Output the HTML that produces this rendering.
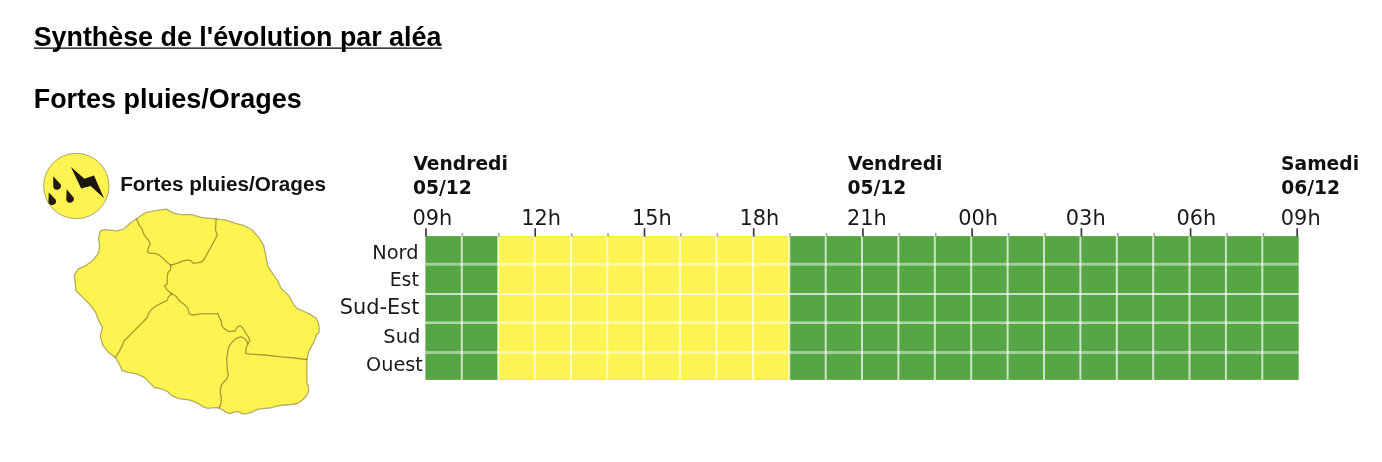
<!DOCTYPE html>
<html lang="fr"><head><meta charset="utf-8"><title>Synthèse de l'évolution par aléa</title>
<style>
html,body{margin:0;padding:0;background:#fff;}
body{width:1382px;height:462px;position:relative;overflow:hidden;font-family:"Liberation Sans",sans-serif;color:#000;}
svg{position:absolute;left:0;top:0;}
.dj{font-family:"DejaVu Sans",sans-serif;}
.hd{font-family:"Liberation Sans",sans-serif;font-weight:bold;fill:#000;}
</style></head><body>
<svg width="1382" height="462" viewBox="0 0 1382 462">
<g>
<text class="hd" x="33.7" y="46" font-size="26.85">Synthèse de l'évolution par aléa</text>
<line x1="33.8" y1="48.1" x2="441.9" y2="48.1" stroke="#000" stroke-width="1.3"/>
<text class="hd" x="33.7" y="108" font-size="26.95">Fortes pluies/Orages</text>
<rect x="425.4" y="236.1" width="873.3" height="143.8" fill="#56a645"/>
<rect x="498.2" y="236.1" width="291.1" height="143.8" fill="#fdf351"/>
<line x1="425.4" y1="264.3" x2="1298.7" y2="264.3" stroke="#fff" stroke-opacity="0.45" stroke-width="3.0"/>
<line x1="425.4" y1="294.1" x2="1298.7" y2="294.1" stroke="#fff" stroke-opacity="0.68" stroke-width="2.0"/>
<line x1="425.4" y1="322.7" x2="1298.7" y2="322.7" stroke="#fff" stroke-opacity="0.56" stroke-width="2.4"/>
<line x1="425.4" y1="352.4" x2="1298.7" y2="352.4" stroke="#fff" stroke-opacity="0.45" stroke-width="3.0"/>
<line x1="461.8" y1="236.1" x2="461.8" y2="379.9" stroke="#fff" stroke-opacity="0.7" stroke-width="2"/>
<line x1="498.2" y1="236.1" x2="498.2" y2="379.9" stroke="#fff" stroke-opacity="0.7" stroke-width="2"/>
<line x1="534.6" y1="236.1" x2="534.6" y2="379.9" stroke="#fff" stroke-opacity="0.7" stroke-width="2"/>
<line x1="571.0" y1="236.1" x2="571.0" y2="379.9" stroke="#fff" stroke-opacity="0.7" stroke-width="2"/>
<line x1="607.3" y1="236.1" x2="607.3" y2="379.9" stroke="#fff" stroke-opacity="0.7" stroke-width="2"/>
<line x1="643.7" y1="236.1" x2="643.7" y2="379.9" stroke="#fff" stroke-opacity="0.7" stroke-width="2"/>
<line x1="680.1" y1="236.1" x2="680.1" y2="379.9" stroke="#fff" stroke-opacity="0.7" stroke-width="2"/>
<line x1="716.5" y1="236.1" x2="716.5" y2="379.9" stroke="#fff" stroke-opacity="0.7" stroke-width="2"/>
<line x1="752.9" y1="236.1" x2="752.9" y2="379.9" stroke="#fff" stroke-opacity="0.7" stroke-width="2"/>
<line x1="789.3" y1="236.1" x2="789.3" y2="379.9" stroke="#fff" stroke-opacity="0.7" stroke-width="2"/>
<line x1="825.7" y1="236.1" x2="825.7" y2="379.9" stroke="#fff" stroke-opacity="0.7" stroke-width="2"/>
<line x1="862.0" y1="236.1" x2="862.0" y2="379.9" stroke="#fff" stroke-opacity="0.7" stroke-width="2"/>
<line x1="898.4" y1="236.1" x2="898.4" y2="379.9" stroke="#fff" stroke-opacity="0.7" stroke-width="2"/>
<line x1="934.8" y1="236.1" x2="934.8" y2="379.9" stroke="#fff" stroke-opacity="0.7" stroke-width="2"/>
<line x1="971.2" y1="236.1" x2="971.2" y2="379.9" stroke="#fff" stroke-opacity="0.7" stroke-width="2"/>
<line x1="1007.6" y1="236.1" x2="1007.6" y2="379.9" stroke="#fff" stroke-opacity="0.7" stroke-width="2"/>
<line x1="1044.0" y1="236.1" x2="1044.0" y2="379.9" stroke="#fff" stroke-opacity="0.7" stroke-width="2"/>
<line x1="1080.4" y1="236.1" x2="1080.4" y2="379.9" stroke="#fff" stroke-opacity="0.7" stroke-width="2"/>
<line x1="1116.8" y1="236.1" x2="1116.8" y2="379.9" stroke="#fff" stroke-opacity="0.7" stroke-width="2"/>
<line x1="1153.2" y1="236.1" x2="1153.2" y2="379.9" stroke="#fff" stroke-opacity="0.7" stroke-width="2"/>
<line x1="1189.5" y1="236.1" x2="1189.5" y2="379.9" stroke="#fff" stroke-opacity="0.7" stroke-width="2"/>
<line x1="1225.9" y1="236.1" x2="1225.9" y2="379.9" stroke="#fff" stroke-opacity="0.7" stroke-width="2"/>
<line x1="1262.3" y1="236.1" x2="1262.3" y2="379.9" stroke="#fff" stroke-opacity="0.7" stroke-width="2"/>
<line x1="426.0" y1="228.2" x2="426.0" y2="236.6" stroke="#3a3a3a" stroke-width="1.7"/>
<line x1="462.4" y1="233.0" x2="462.4" y2="236.6" stroke="#a0a0a0" stroke-width="1.6"/>
<line x1="498.8" y1="233.0" x2="498.8" y2="236.6" stroke="#a0a0a0" stroke-width="1.6"/>
<line x1="535.2" y1="228.2" x2="535.2" y2="236.6" stroke="#3a3a3a" stroke-width="1.7"/>
<line x1="571.6" y1="233.0" x2="571.6" y2="236.6" stroke="#a0a0a0" stroke-width="1.6"/>
<line x1="608.0" y1="233.0" x2="608.0" y2="236.6" stroke="#a0a0a0" stroke-width="1.6"/>
<line x1="644.5" y1="228.2" x2="644.5" y2="236.6" stroke="#3a3a3a" stroke-width="1.7"/>
<line x1="680.9" y1="233.0" x2="680.9" y2="236.6" stroke="#a0a0a0" stroke-width="1.6"/>
<line x1="717.3" y1="233.0" x2="717.3" y2="236.6" stroke="#a0a0a0" stroke-width="1.6"/>
<line x1="753.7" y1="228.2" x2="753.7" y2="236.6" stroke="#3a3a3a" stroke-width="1.7"/>
<line x1="790.1" y1="233.0" x2="790.1" y2="236.6" stroke="#a0a0a0" stroke-width="1.6"/>
<line x1="826.5" y1="233.0" x2="826.5" y2="236.6" stroke="#a0a0a0" stroke-width="1.6"/>
<line x1="862.9" y1="228.2" x2="862.9" y2="236.6" stroke="#3a3a3a" stroke-width="1.7"/>
<line x1="899.3" y1="233.0" x2="899.3" y2="236.6" stroke="#a0a0a0" stroke-width="1.6"/>
<line x1="935.7" y1="233.0" x2="935.7" y2="236.6" stroke="#a0a0a0" stroke-width="1.6"/>
<line x1="972.1" y1="228.2" x2="972.1" y2="236.6" stroke="#3a3a3a" stroke-width="1.7"/>
<line x1="1008.6" y1="233.0" x2="1008.6" y2="236.6" stroke="#a0a0a0" stroke-width="1.6"/>
<line x1="1045.0" y1="233.0" x2="1045.0" y2="236.6" stroke="#a0a0a0" stroke-width="1.6"/>
<line x1="1081.4" y1="228.2" x2="1081.4" y2="236.6" stroke="#3a3a3a" stroke-width="1.7"/>
<line x1="1117.8" y1="233.0" x2="1117.8" y2="236.6" stroke="#a0a0a0" stroke-width="1.6"/>
<line x1="1154.2" y1="233.0" x2="1154.2" y2="236.6" stroke="#a0a0a0" stroke-width="1.6"/>
<line x1="1190.6" y1="228.2" x2="1190.6" y2="236.6" stroke="#3a3a3a" stroke-width="1.7"/>
<line x1="1227.0" y1="233.0" x2="1227.0" y2="236.6" stroke="#a0a0a0" stroke-width="1.6"/>
<line x1="1263.4" y1="233.0" x2="1263.4" y2="236.6" stroke="#a0a0a0" stroke-width="1.6"/>
<line x1="1297.2" y1="228.2" x2="1297.2" y2="236.6" stroke="#3a3a3a" stroke-width="1.7"/>
<text class="dj" x="412.49" y="224.5" font-size="20.90" fill="#1a1a1a">09h</text>
<text class="dj" x="521.13" y="224.5" font-size="20.90" fill="#1a1a1a">12h</text>
<text class="dj" x="631.93" y="224.5" font-size="20.90" fill="#1a1a1a">15h</text>
<text class="dj" x="739.48" y="224.5" font-size="20.90" fill="#1a1a1a">18h</text>
<text class="dj" x="846.96" y="224.5" font-size="20.90" fill="#1a1a1a">21h</text>
<text class="dj" x="958.24" y="224.5" font-size="20.90" fill="#1a1a1a">00h</text>
<text class="dj" x="1065.84" y="224.5" font-size="20.90" fill="#1a1a1a">03h</text>
<text class="dj" x="1176.39" y="224.5" font-size="20.90" fill="#1a1a1a">06h</text>
<text class="dj" x="1280.84" y="224.5" font-size="20.90" fill="#1a1a1a">09h</text>
<text class="dj" x="413.38" y="169.8" font-size="18.70" font-weight="bold" fill="#111">Vendredi</text>
<text class="dj" x="412.88" y="194.1" font-size="18.70" font-weight="bold" fill="#111">05/12</text>
<text class="dj" x="847.98" y="169.8" font-size="18.70" font-weight="bold" fill="#111">Vendredi</text>
<text class="dj" x="847.48" y="194.1" font-size="18.70" font-weight="bold" fill="#111">05/12</text>
<text class="dj" x="1281.09" y="169.8" font-size="18.70" font-weight="bold" fill="#111">Samedi</text>
<text class="dj" x="1281.28" y="194.1" font-size="18.70" font-weight="bold" fill="#111">06/12</text>
<text class="dj" x="372.20" y="258.6" font-size="19.37" fill="#1a1a1a">Nord</text>
<text class="dj" x="389.64" y="286.4" font-size="18.96" fill="#1a1a1a">Est</text>
<text class="dj" x="339.84" y="314.0" font-size="20.88" fill="#1a1a1a">Sud-Est</text>
<text class="dj" x="383.34" y="342.7" font-size="19.39" fill="#1a1a1a">Sud</text>
<text class="dj" x="366.12" y="371.2" font-size="19.27" fill="#1a1a1a">Ouest</text>
<path d="M75.9 290.1 L74.3 274.9 L78.4 268.8 L85.5 265.8 L93.6 259.7 L98.6 252.6 L99.6 245.5 L98.6 238.4 L100.2 230.9 L104.7 229.7 L116.9 230.9 L124.0 228.9 L130.0 223.2 L137.1 218.2 L145.2 212.7 L155.4 210.7 L166.5 209.1 L173.6 213.1 L181.7 214.7 L191.8 214.7 L202.0 217.6 L216.1 218.8 L226.3 220.2 L236.4 223.6 L244.5 225.7 L252.6 230.3 L258.7 237.4 L263.7 245.5 L265.8 255.7 L267.8 265.8 L272.9 273.9 L277.9 281.0 L281.0 288.1 L289.1 296.1 L293.9 305.0 L297.8 308.9 L304.3 311.5 L310.8 314.7 L316.0 318.0 L318.6 323.2 L319.2 328.4 L318.8 332.9 L316.0 335.5 L314.7 340.7 L311.4 346.6 L308.8 351.8 L307.5 356.9 L306.9 359.5 L306.9 358.0 L306.9 383.3 L308.2 385.9 L308.8 390.5 L306.9 395.0 L303.0 399.6 L297.8 403.5 L291.3 404.5 L283.5 405.0 L277.0 406.1 L270.5 408.0 L262.7 408.6 L257.5 409.3 L252.3 411.9 L247.1 413.6 L242.6 413.8 L238.7 411.9 L234.8 411.9 L230.3 413.6 L226.4 412.5 L222.5 409.9 L219.2 408.0 L213.4 407.6 L208.2 408.4 L204.3 407.4 L200.4 404.8 L195.2 402.2 L190.0 400.2 L178.7 398.6 L171.6 395.6 L167.5 391.5 L161.4 388.9 L154.3 387.5 L150.3 383.4 L144.2 377.4 L137.1 373.9 L128.0 372.3 L121.9 370.3 L119.9 365.2 L115.8 358.1 L108.8 352.8 L103.1 345.7 L100.2 336.6 L102.3 327.5 L98.6 320.4 L95.6 312.3 L89.5 304.2 L82.4 297.1 L75.3 290.0 Z" fill="#fdf351" stroke="#6b6320" stroke-opacity="0.5" stroke-width="1.3" stroke-linejoin="round"/>
<path d="M136.6 219.1 L138.8 224.3 L142.1 228.9 L143.4 233.4 L146.0 237.3 L149.2 241.2 L150.1 244.5 L148.3 247.7 L147.5 252.3 L150.5 253.3 L155.1 253.3 L159.0 254.9 L162.9 258.1 L166.8 262.0 L170.6 265.2" fill="none" stroke="#6b6320" stroke-opacity="0.6" stroke-width="1.3" stroke-linejoin="round" stroke-linecap="round"/>
<path d="M216.1 218.5 L215.8 225.0 L215.5 230.2 L217.4 235.1 L214.8 239.9 L211.6 245.8 L208.3 251.6 L205.1 257.5 L201.8 262.0 L196.6 262.9 L193.4 263.3 L190.8 260.7 L187.5 259.8 L182.3 261.1 L177.1 263.3 L170.6 265.2" fill="none" stroke="#6b6320" stroke-opacity="0.6" stroke-width="1.3" stroke-linejoin="round" stroke-linecap="round"/>
<path d="M171.0 265.2 L170.4 269.8 L167.8 273.0 L167.1 278.9 L167.4 283.4 L164.5 286.0 L167.1 289.9 L171.7 293.8" fill="none" stroke="#6b6320" stroke-opacity="0.6" stroke-width="1.3" stroke-linejoin="round" stroke-linecap="round"/>
<path d="M171.7 293.8 L168.4 297.1 L167.1 300.3 L161.9 302.9 L156.8 305.5 L152.2 308.8 L151.0 310.0 L148.4 313.9 L147.1 317.8 L141.9 323.0 L135.5 329.5 L129.0 336.0 L123.8 341.2 L121.8 346.4 L119.2 351.6 L115.3 357.4" fill="none" stroke="#6b6320" stroke-opacity="0.6" stroke-width="1.3" stroke-linejoin="round" stroke-linecap="round"/>
<path d="M171.7 293.8 L176.2 296.4 L179.5 301.0 L184.0 304.2 L187.9 308.1 L189.2 313.9 L193.1 315.0 L200.9 313.9 L210.0 313.9 L217.8 313.7 L217.9 313.4 L219.2 317.3 L221.2 320.6 L221.8 325.8 L223.8 328.4 L229.0 331.6 L234.8 331.0 L237.4 327.1 L240.0 325.5 L242.6 327.7 L245.2 332.3 L248.4 336.8 L250.0 340.7 L247.8 344.0 L246.1 347.9 L245.8 353.7 L254.9 354.4 L265.3 355.0 L280.9 356.9 L293.9 358.0 L306.9 359.5" fill="none" stroke="#6b6320" stroke-opacity="0.6" stroke-width="1.3" stroke-linejoin="round" stroke-linecap="round"/>
<path d="M247.8 344.0 L247.1 341.4 L244.5 338.5 L241.3 336.8 L236.8 338.1 L232.9 341.4 L229.6 345.3 L227.9 350.5 L227.0 356.9 L226.6 358.0 L227.0 364.5 L227.4 371.0 L228.3 374.9 L227.0 378.8 L223.8 382.0 L221.2 385.3 L220.1 391.8 L221.2 397.0 L220.9 403.5 L219.2 408.0" fill="none" stroke="#6b6320" stroke-opacity="0.6" stroke-width="1.3" stroke-linejoin="round" stroke-linecap="round"/>
<clipPath id="ic"><circle cx="76.3" cy="186.0" r="32.7"/></clipPath>
<circle cx="76.3" cy="186.0" r="32.7" fill="#fdf351" stroke="#6b6320" stroke-opacity="0.6" stroke-width="0.9"/>
<path d="M70.9 167.1 L84.4 178.7 L94.0 175.6 L104.0 198.3 L90.6 186.0 L81.2 188.6 Z" fill="#1c1712"/>
<g clip-path="url(#ic)" fill="#231a10">
<path d="M53.2 176.2 L60.6 184.3 A3.9 3.9 0 0 1 58.4 189.4 A3.9 3.9 0 0 1 53.3 187.2 Z"/>
<path d="M66.7 189.2 L73.6 197.5 A3.9 3.9 0 0 1 71.2 202.4 A3.9 3.9 0 0 1 66.2 200.0 Z"/>
<path d="M48.8 192.4 L55.7 199.8 A3.9 3.9 0 0 1 53.4 204.8 A3.9 3.9 0 0 1 48.4 202.5 Z"/>
</g>
<text x="120.2" y="190.6" font-family="'Liberation Sans',sans-serif" font-weight="bold" font-size="20.7" fill="#111">Fortes pluies/Orages</text>
</g>
</svg>
</body></html>
